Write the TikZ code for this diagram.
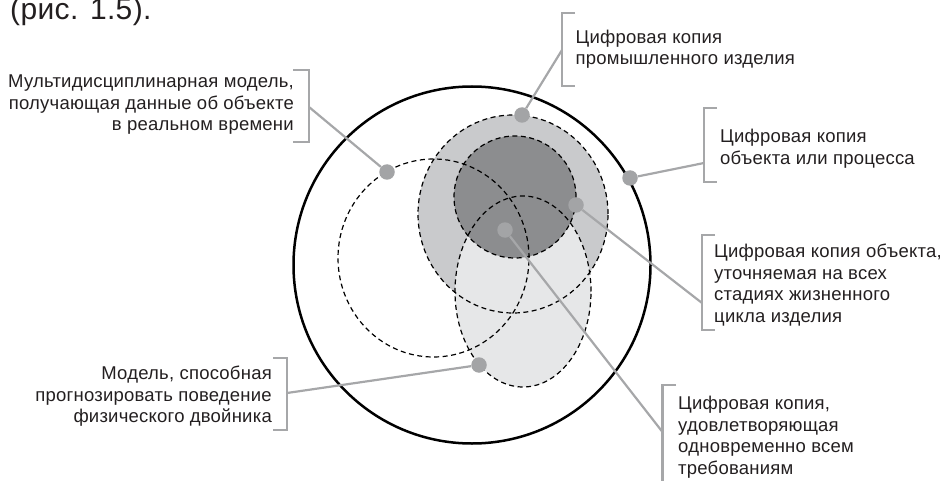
\documentclass[tikz,border=0pt]{standalone}
\usepackage{fontspec}
\setmainfont{Liberation Sans}[LetterSpace=1.2]
\definecolor{txt}{HTML}{231F20}
\definecolor{midgray}{HTML}{C9CACC}
\definecolor{darkgray}{HTML}{8C8D8F}
\definecolor{lightgray}{HTML}{E6E7E8}
\definecolor{dotgray}{HTML}{A3A4A6}
\definecolor{leadgray}{HTML}{A6A7A9}
\newcommand\firstln{\rule{0pt}{13.8pt}}
\begin{document}
\begin{tikzpicture}[x=1pt,y=-1pt,
  lab/.style={font=\fontsize{18.5}{21.5}\selectfont, inner sep=0pt, text=txt},
  labl/.style={lab, align=left, anchor=north west},
  labr/.style={lab, align=right, anchor=north east},
  brk/.style={draw=leadgray, line width=2.2pt},
  lead/.style={draw=leadgray, line width=2.2pt},
  dot/.style={circle, fill=dotgray, inner sep=0pt, minimum size=15.5pt},
  dsh/.style={draw=black, line width=1.2pt, dash pattern=on 5pt off 3.5pt}]
\useasboundingbox (0,0) rectangle (944,481);
\clip (0,0) rectangle (944,481);

% title
\node[font=\fontsize{30}{36}\selectfont, text=txt, inner sep=0pt, anchor=base west] (title) at (10,20) {(рис. 1.5).};

% fills
\fill[midgray] (513,214) ellipse [x radius=95pt, y radius=99pt];
\fill[lightgray] (523,291.5) ellipse [x radius=68pt, y radius=95.5pt];
\fill[darkgray] (515,197) circle [radius=61pt];

% dashed outlines
\draw[dsh] (433.5,258) ellipse [x radius=95.5pt, y radius=99pt];
\draw[dsh] (513,214) ellipse [x radius=95pt, y radius=99pt];
\draw[dsh] (523,291.5) ellipse [x radius=68pt, y radius=95.5pt];
\draw[dsh] (515,197) circle [radius=61pt];

% big circle
\draw[black, line width=2.5pt] (472,265) circle [radius=178.5pt];

% brackets
\draw[brk] (575,13) -- (562,13) -- (562,86) -- (575,86);
\draw[brk] (717,108) -- (704,108) -- (704,182) -- (717,182);
\draw[brk] (293,70) -- (309,70) -- (309,142) -- (293,142);
\draw[brk] (715,235) -- (702,235) -- (702,330) -- (715,330);
\draw[brk] (273,358) -- (287,358) -- (287,430) -- (273,430);
\draw[brk] (676,385) -- (662.5,385) -- (662.5,490);

% bracket attach points
\coordinate (b1) at (562,50);
\coordinate (b2) at (704,163);
\coordinate (b3) at (309,107);
\coordinate (b4) at (702,303);
\coordinate (b5) at (287,393);
\coordinate (b6) at (662.5,432);

% dots
\node[dot] (d1) at (522,115) {};
\node[dot] (d2) at (630,178) {};
\node[dot] (d3) at (387,172) {};
\node[dot] (d4) at (576,205) {};
\node[dot] (d5) at (479,365) {};
\node[dot] (d6) at (505,230) {};

% leaders
\draw[lead] (d1) -- (b1);
\draw[lead] (d2) -- (b2);
\draw[lead] (d3) -- (b3);
\draw[lead] (d4) -- (b4);
\draw[lead] (d5) -- (b5);
\draw[lead] (d6) -- (b6);

% labels
\node[labl] (t1) at (575.5,29.2) {\firstln Цифровая копия\\промышленного изделия};
\node[labl] (t2) at (720,128.9) {\firstln Цифровая копия\\объекта или процесса};
\node[labr] (t3) at (294,73.7) {\firstln Мультидисциплинарная модель,\\получающая данные об объекте\\в реальном времени};
\node[labl] (t4) at (714,243.9) {\firstln Цифровая копия объекта,\\уточняемая на всех\\стадиях жизненного\\цикла изделия};
\node[labr] (t5) at (272,365.5) {\firstln Модель, способная\\прогнозировать поведение\\физического двойника};
\node[labl] (t6) at (678,395.5) {\firstln Цифровая копия,\\удовлетворяющая\\одновременно всем\\требованиям};
\end{tikzpicture}
\end{document}
